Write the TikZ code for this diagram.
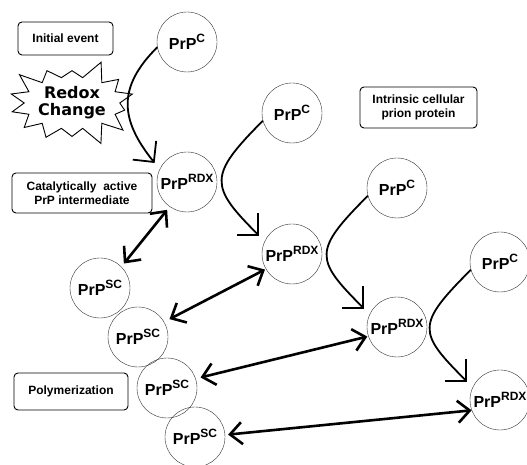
\documentclass[tikz,border=0pt]{standalone}
\usepackage{fontspec}
\setmainfont{Liberation Sans}
\newfontfamily\burstfont{DejaVu Sans}
\usetikzlibrary{arrows.meta,shapes.symbols}
\newcommand{\prp}[1]{\textbf{PrP}\raisebox{0.42em}{\fontsize{12}{12}\selectfont\bfseries #1}}

\begin{document}
\begin{tikzpicture}[x=1pt,y=1pt,
  prot/.style={draw=black!80,circle,minimum size=60pt,inner sep=0pt,font=\fontsize{16}{16}\selectfont},
  tag/.style={draw,rounded corners=4pt,line width=0.9pt,inner sep=2pt,
              font=\fontsize{12}{13.5}\selectfont\bfseries,align=center},
  conv/.style={-{Straight Barb[length=15pt,width=30pt]},line width=1.8pt},
  bind/.style={{Straight Barb[length=12pt,width=22pt]}-{Straight Barb[length=12pt,width=22pt]},line width=2.6pt}]
  \useasboundingbox (0,0) rectangle (527,465);
  % cellular PrP
  \node[prot] (c1) at (187,423) {\prp{C}};
  \node[prot] (c2) at (292,352) {\prp{C}};
  \node[prot] (c3) at (397,277) {\prp{C}};
  \node[prot] (c4) at (500,203) {\prp{C}};
  % redox intermediate
  \node[prot] (r1) at (187,283) {\prp{RDX}};
  \node[prot] (r2) at (292,211) {\prp{RDX}};
  \node[prot] (r3) at (397,138) {\prp{RDX}};
  \node[prot] (r4) at (500,65) {\prp{RDX}};
  % scrapie chain
  \node[prot] (s1) at (100,177) {\prp{SC}};
  \node[prot] (s2) at (138,128) {\prp{SC}};
  \node[prot] (s3) at (167,77) {\prp{SC}};
  \node[prot] (s4) at (195,28) {\prp{SC}};
  % labels
  \node[tag,minimum width=95pt,minimum height=33pt] (init) at (65.5,426.5) {Initial event};
  \node[tag,minimum width=140pt,minimum height=40pt] (cat) at (82,272) {Catalytically\ \ active\\PrP intermediate};
  \node[tag,minimum width=117pt,minimum height=41pt] (intr) at (418.5,357.5) {Intrinsic cellular\\prion protein};
  \node[tag,minimum width=114pt,minimum height=37pt] (poly) at (71,73.5) {Polymerization};
  \node[draw,starburst,starburst points=14,starburst point height=20pt,random starburst=3,
        minimum width=128pt,minimum height=92pt,inner sep=0pt,line width=0.9pt,align=center,
        font=\burstfont\bfseries\fontsize{16}{17}\selectfont] (burst) at (72,362) {Redox\\Change};
  % conversion
  \draw[conv,shorten >=8pt] (c1.190) .. controls +(-40,-40) and +(-40,50) .. (r1.155);
  \draw[conv,shorten >=8pt] (c2.195) .. controls +(-55,-55) and +(-55,55) .. (r2.155);
  \draw[conv,shorten >=8pt] (c3.195) .. controls +(-55,-55) and +(-55,55) .. (r3.155);
  \draw[conv,shorten >=8pt] (c4.195) .. controls +(-55,-55) and +(-55,55) .. (r4.155);
  % binding
  \draw[bind,shorten <=4pt,shorten >=4pt] (s1.45) -- (r1.235);
  \draw[bind,shorten <=6pt,shorten >=1pt] (s2.30) -- (r2.210);
  \draw[bind,shorten <=5pt,shorten >=1pt] (s3.18) -- (r3.198);
  \draw[bind,shorten <=3pt] (s4.4) -- (r4.200);
\end{tikzpicture}
\end{document}
